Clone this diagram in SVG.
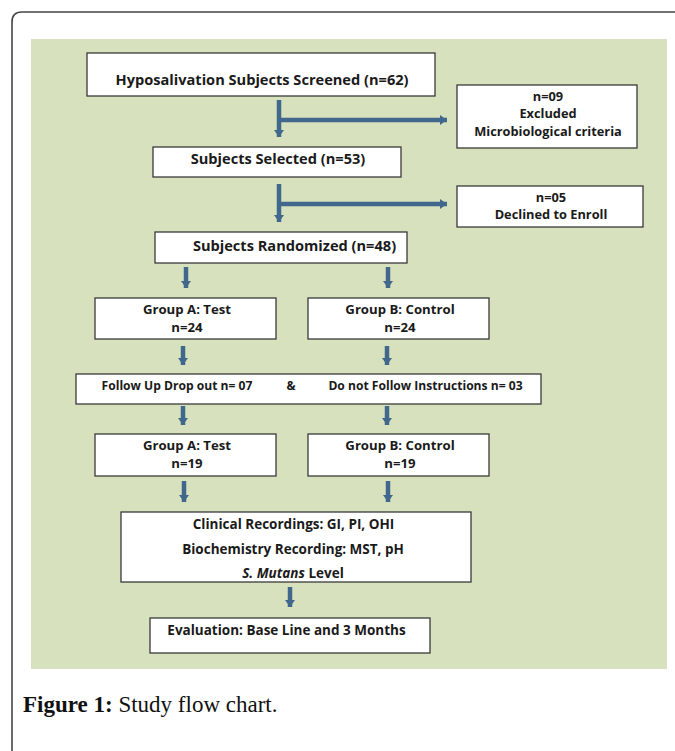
<svg xmlns="http://www.w3.org/2000/svg" width="675" height="751" viewBox="0 0 675 751">
<style>
.box{fill:#ffffff;stroke:#3a3a3a;stroke-width:1.3}
.t{font-family:"Open Sans","Liberation Sans",sans-serif;font-weight:bold;font-size:13.5px;fill:#1a1a1a;text-anchor:middle}
.l{font-size:14.6px}
.m{font-size:13.2px}
.s{font-size:12.8px}
.f{font-size:12.1px}
.arr{stroke:#41688C;stroke-width:4.5;fill:none}
.cap{font-family:"Liberation Serif",serif;font-size:23px;fill:#111}
</style>
<defs>
<marker id="ah" markerUnits="userSpaceOnUse" markerWidth="12" markerHeight="12" viewBox="0 0 12 12" refX="7" refY="6" orient="auto">
<path d="M0,1 L7,6 L0,11 Z" fill="#41688C"/>
</marker>
</defs>
<rect x="0" y="0" width="675" height="751" fill="#ffffff"/>
<path d="M12,760 L12,22 Q12,12 22,12 L690,12" fill="none" stroke="#444" stroke-width="1.6"/>
<rect x="31" y="39" width="636" height="630" fill="#D7E1BD"/>

<g id="connectors">
<line class="arr" x1="279" y1="100" x2="279" y2="137" marker-end="url(#ah)"/>
<line class="arr" x1="281" y1="120" x2="447" y2="120" marker-end="url(#ah)"/>
<line class="arr" x1="279" y1="184" x2="279" y2="222" marker-end="url(#ah)"/>
<line class="arr" x1="281" y1="204" x2="447" y2="204" marker-end="url(#ah)"/>
<line class="arr" x1="186" y1="267" x2="186" y2="288" marker-end="url(#ah)"/>
<line class="arr" x1="388" y1="267" x2="388" y2="288" marker-end="url(#ah)"/>
<line class="arr" x1="183" y1="346" x2="183" y2="365" marker-end="url(#ah)"/>
<line class="arr" x1="387" y1="346" x2="387" y2="365" marker-end="url(#ah)"/>
<line class="arr" x1="183" y1="406" x2="183" y2="425" marker-end="url(#ah)"/>
<line class="arr" x1="387" y1="406" x2="387" y2="425" marker-end="url(#ah)"/>
<line class="arr" x1="184" y1="481" x2="184" y2="502" marker-end="url(#ah)"/>
<line class="arr" x1="388" y1="481" x2="388" y2="502" marker-end="url(#ah)"/>
<line class="arr" x1="290" y1="587" x2="290" y2="607" marker-end="url(#ah)"/>
</g>

<g id="screened">
<rect class="box" x="87" y="53" width="348" height="43"/>
<text class="t l" x="262" y="85">Hyposalivation Subjects Screened (n=62)</text>
</g>
<g id="excluded">
<rect class="box" x="457" y="85" width="180" height="63"/>
<text class="t s" x="548" y="100.5">n=09</text>
<text class="t s" x="548" y="118">Excluded</text>
<text class="t s" x="548" y="135.5">Microbiological criteria</text>
</g>
<g id="selected">
<rect class="box" x="153" y="147" width="248" height="30"/>
<text class="t l" x="278" y="164">Subjects Selected (n=53)</text>
</g>
<g id="declined">
<rect class="box" x="457" y="186" width="186" height="41"/>
<text class="t s" x="551" y="201.5">n=05</text>
<text class="t s" x="551" y="219">Declined to Enroll</text>
</g>
<g id="randomized">
<rect class="box" x="155" y="232" width="252" height="31"/>
<text class="t l" x="294.5" y="251">Subjects Randomized (n=48)</text>
</g>
<g id="groupA1">
<rect class="box" x="95" y="298" width="181" height="41"/>
<text class="t m" x="187" y="313.5">Group A: Test</text>
<text class="t m" x="187" y="331.5">n=24</text>
</g>
<g id="groupB1">
<rect class="box" x="308" y="298" width="181" height="41"/>
<text class="t m" x="400" y="313.5">Group B: Control</text>
<text class="t m" x="400" y="331.5">n=24</text>
</g>
<g id="followup">
<rect class="box" x="76" y="374" width="465" height="30"/>
<text class="t f" x="177" y="389.5">Follow Up Drop out n= 07</text>
<text class="t f" x="291" y="389.5">&amp;</text>
<text class="t f" x="425.5" y="389.5">Do not Follow Instructions n= 03</text>
</g>
<g id="groupA2">
<rect class="box" x="95" y="434" width="181" height="42"/>
<text class="t m" x="187" y="449.5">Group A: Test</text>
<text class="t m" x="187" y="467.5">n=19</text>
</g>
<g id="groupB2">
<rect class="box" x="308" y="434" width="181" height="42"/>
<text class="t m" x="400" y="449.5">Group B: Control</text>
<text class="t m" x="400" y="467.5">n=19</text>
</g>
<g id="recordings">
<rect class="box" x="121" y="512" width="350" height="70"/>
<text class="t" x="293.5" y="528.5">Clinical Recordings: GI, PI, OHI</text>
<text class="t" x="293" y="553.5">Biochemistry Recording: MST, pH</text>
<text class="t" x="293" y="577.5"><tspan font-style="italic">S. Mutans</tspan> Level</text>
</g>
<g id="evaluation">
<rect class="box" x="150" y="618" width="280" height="35"/>
<text class="t" x="286.5" y="635">Evaluation: Base Line and 3 Months</text>
</g>
<text class="cap" x="23" y="712"><tspan font-weight="bold">Figure 1:</tspan> Study flow chart.</text>
</svg>
